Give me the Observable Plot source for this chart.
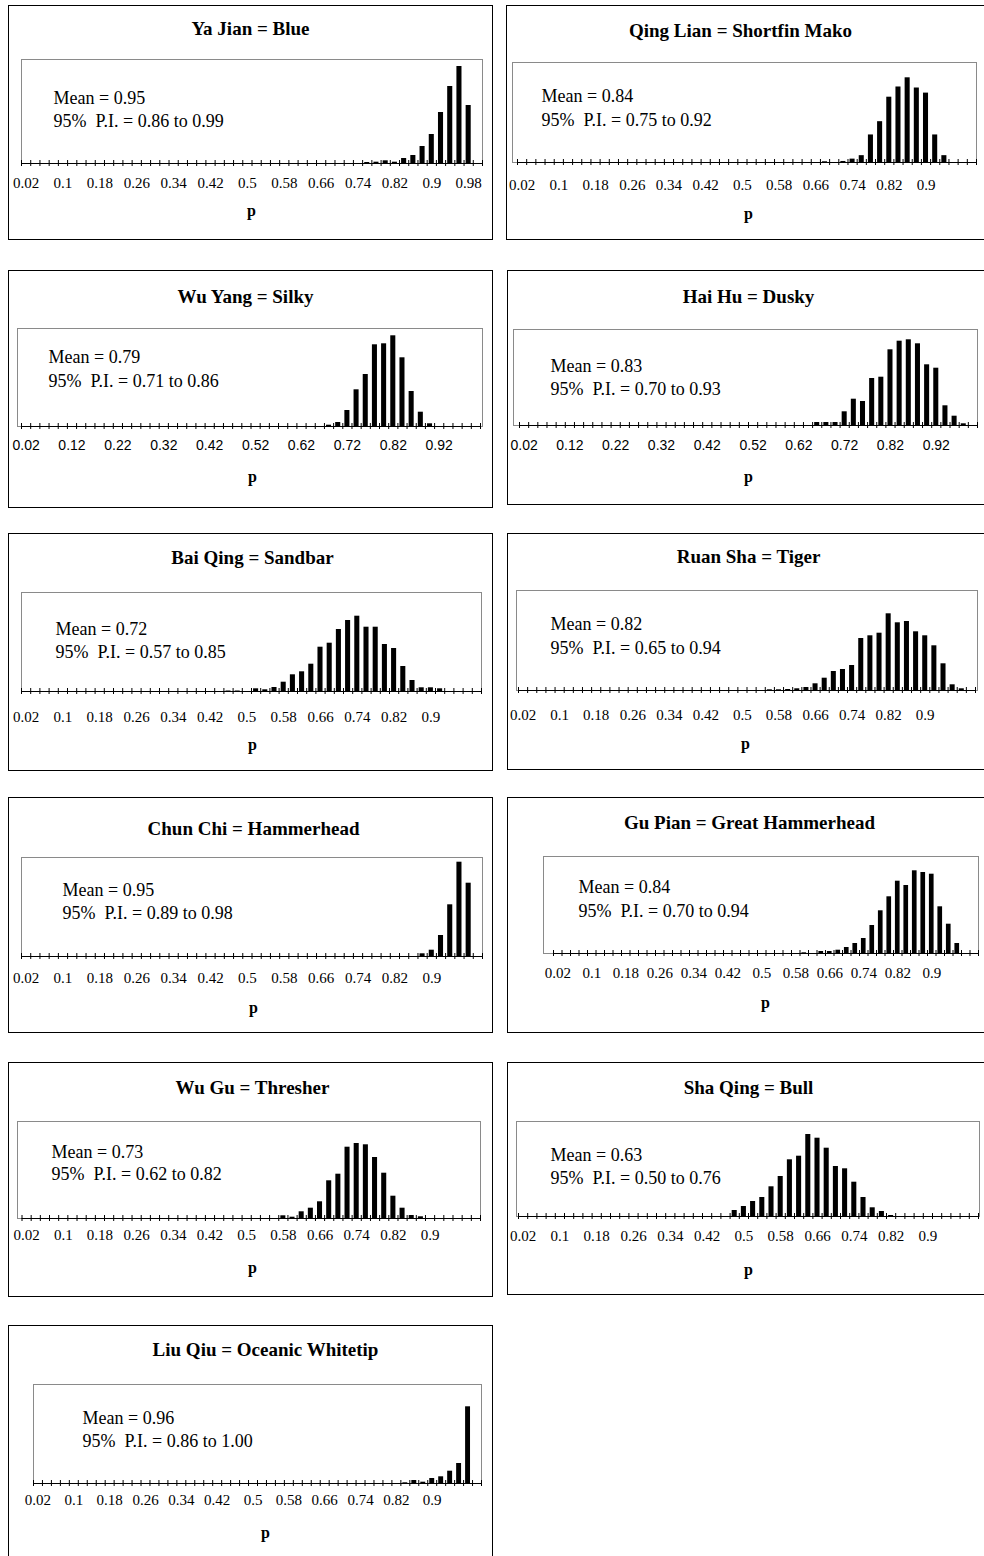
<!DOCTYPE html>
<html><head><meta charset="utf-8">
<script src="https://cdn.jsdelivr.net/npm/d3@7"></script>
<script src="https://cdn.jsdelivr.net/npm/@observablehq/plot@0.6"></script>
<style>
html,body{margin:0;padding:0;background:#fff;}
body{width:984px;height:1556px;overflow:hidden;position:relative;}
.panel{position:absolute;}
.panel svg{display:block;max-width:none !important;}
</style></head><body>
<script>
// ---- categories (bin labels of p) ----
const binCount = 50; // 0.02 ... 1.00

// ---- tick labels ----
const serifLabels = ["0.02","0.1","0.18","0.26","0.34","0.42","0.5","0.58","0.66","0.74","0.82","0.9"];
const serifLabels98 = ["0.02","0.1","0.18","0.26","0.34","0.42","0.5","0.58","0.66","0.74","0.82","0.9","0.98"];
const sansLabels = ["0.02","0.12","0.22","0.32","0.42","0.52","0.62","0.72","0.82","0.92"];

// ---- titles & statistics ----
const titles = ["Ya Jian = Blue","Qing Lian = Shortfin Mako","Wu Yang = Silky","Hai Hu = Dusky","Bai Qing = Sandbar","Ruan Sha = Tiger","Chun Chi = Hammerhead","Gu Pian = Great Hammerhead","Wu Gu = Thresher","Sha Qing = Bull","Liu Qiu = Oceanic Whitetip"];
const means = ["0.95","0.84","0.79","0.83","0.72","0.82","0.95","0.84","0.73","0.63","0.96"];
const intervals = ["0.86 to 0.99","0.75 to 0.92","0.71 to 0.86","0.70 to 0.93","0.57 to 0.85","0.65 to 0.94","0.89 to 0.98","0.70 to 0.94","0.62 to 0.82","0.50 to 0.76","0.86 to 1.00"];

// ---- histogram series (relative frequency, first bin given) ----
const firstBin = [0.76, 0.68, 0.68, 0.66, 0.46, 0.56, 0.88, 0.60, 0.58, 0.48, 0.84];
const axisMax  = [104, 98, 98, 96, 99, 100, 99, 97, 97, 95, 99];
const yaJian   = [1, 1.3, 2.7, 1.3, 5, 8, 17, 29, 51, 77, 97, 58];
const qingLian = [0.7, 0, 1, 3.3, 6.7, 27, 40, 64, 74, 83, 73, 68, 27, 6.7];
const wuYang   = [1.3, 4, 16, 36.7, 52, 81.7, 82.7, 90.7, 68.7, 35, 14.3, 2.7];
const haiHu    = [3, 3, 3, 13.7, 26.3, 24, 47, 48.3, 75.7, 84.3, 85.7, 81.7, 60.7, 57.3, 19.7, 9.3, 1.7];
const baiQing  = [0.5, 0.5, 0, 2.7, 1.7, 4, 9.3, 16.7, 19.7, 27.3, 44.3, 48.3, 62, 71, 75.3, 64.3, 64.3, 47, 43, 25, 11, 3.7, 3.7, 2.7];
const ruanSha  = [0.7, 0.7, 1, 1.7, 3, 6.7, 12.3, 19, 21, 25, 52, 54.7, 57.3, 76.7, 67.7, 69, 58.7, 54.7, 44.7, 26.7, 5.7, 1.7];
const chunChi  = [2.7, 6.3, 21, 51.7, 94.3, 73.3];
const guPian   = [0.7, 0, 2, 2, 3.3, 6, 10, 15, 28, 42.7, 56.7, 72.3, 68, 82.7, 81, 79.3, 46.7, 29.3, 10];
const wuGu     = [2.7, 1.3, 6.7, 10.3, 16.7, 37.7, 44.3, 71.3, 75, 73.7, 61, 45.3, 22.3, 10.3, 3, 1.7];
const shaQing  = [6, 10, 15, 19, 29.7, 40, 56.7, 60.3, 82, 78.3, 68.3, 50, 47.7, 34.3, 19, 8.7, 5, 1];
const liuQiu   = [0.7, 3, 1.3, 5, 6.7, 12.3, 20, 76.7];
const series = [yaJian, qingLian, wuYang, haiHu, baiQing, ruanSha, chunChi, guPian, wuGu, shaQing, liuQiu];
const tickLabelSets = [serifLabels98, serifLabels, sansLabels, sansLabels, serifLabels, serifLabels, serifLabels, serifLabels, serifLabels, serifLabels, serifLabels];

// ---- layout (page pixels) ----
const layout = [
  {L:8,T:5,R:493,B:240, iL:21,iR:482,iT:59,axisY:163, aL:21,aR:482, tx:250,ty:28, mx:53,my:98,py:121, labY:183, px:251,pY:210},
  {L:506,T:5,R:992,B:240, iL:512,iR:976,iT:62,axisY:162, aL:517,aR:976, tx:740,ty:30, mx:541,my:96,py:120, labY:185, px:748,pY:213},
  {L:8,T:270,R:493,B:508, iL:17,iR:482,iT:328,axisY:426, aL:21,aR:480, tx:245,ty:296, mx:48,my:357,py:381, labY:445, px:252,pY:476, sans:true},
  {L:507,T:270,R:992,B:505, iL:513,iR:977,iT:329,axisY:425, aL:519,aR:977, tx:748,ty:296, mx:550,my:366,py:389, labY:445, px:748,pY:476, sans:true},
  {L:8,T:533,R:493,B:771, iL:21,iR:481,iT:592,axisY:691, aL:21,aR:481, tx:252,ty:557, mx:55,my:629,py:652, labY:717, px:252,pY:744},
  {L:507,T:533,R:992,B:770, iL:516,iR:977,iT:590,axisY:690, aL:518,aR:975, tx:748,ty:556, mx:550,my:624,py:648, labY:715, px:745,pY:743},
  {L:8,T:797,R:493,B:1033, iL:21,iR:482,iT:857,axisY:956, aL:21,aR:482, tx:253,ty:828, mx:62,my:890,py:913, labY:978, px:253,pY:1007},
  {L:507,T:797,R:992,B:1033, iL:543,iR:978,iT:856,axisY:953, aL:553,aR:978, tx:749,ty:822, mx:578,my:887,py:911, labY:973, px:765,pY:1002},
  {L:8,T:1062,R:493,B:1297, iL:17,iR:480,iT:1121,axisY:1218, aL:21.5,aR:480, tx:252,ty:1087, mx:51,my:1152,py:1174, labY:1235, px:252,pY:1267},
  {L:507,T:1062,R:992,B:1295, iL:516,iR:979,iT:1121,axisY:1216, aL:518,aR:978, tx:748,ty:1087, mx:550,my:1155,py:1178, labY:1236, px:748,pY:1269},
  {L:8,T:1325,R:493,B:1562, iL:33,iR:481,iT:1384,axisY:1483, aL:33,aR:481, tx:265,ty:1349, mx:82,my:1418,py:1441, labY:1500, px:265,pY:1532}
];

const SERIF = '"Liberation Serif","Times New Roman",Times,serif';
const SANS = '"Liberation Sans",Arial,Helvetica,sans-serif';
const edges = d3.range(binCount + 1).map(i => 0.01 + 0.02 * i);

layout.forEach((c, k) => {
  const W = c.R - c.L, H = c.B - c.T;
  const innerH = c.axisY - c.iT;
  const data = series[k].map((v, i) => ({p: +(firstBin[k] + 0.02 * i).toFixed(2), v}));
  const frameCx = (c.iL + c.iR) / 2;
  const svg = Plot.plot({
    width: W, height: H,
    marginLeft: c.iL - c.L, marginRight: c.R - c.iR, marginTop: c.iT - c.T, marginBottom: c.B - c.axisY,
    x: {type: "linear", domain: [0.01, 1.01], range: [c.aL - c.L, c.aR - c.L], axis: null},
    y: {type: "linear", domain: [0, axisMax[k]], axis: null},
    style: {fontFamily: SERIF, background: "white", color: "black", overflow: "visible", maxWidth: "none"},
    marks: [
      Plot.frame({stroke: "#8a8a8a"}),
      Plot.rectY(data, {x1: d => d.p - 0.0055, x2: d => d.p + 0.0055, y1: 0, y2: "v", fill: "black"}),
      Plot.ruleY([0], {x1: 0.01, x2: 1.01, stroke: "black"}),
      Plot.tickX(edges, {x: d => d, stroke: "black", insetTop: innerH - 3, insetBottom: -3}),
      Plot.text(tickLabelSets[k], {x: d => +d, text: d => d, frameAnchor: "bottom", lineAnchor: "middle", dy: c.labY - c.axisY,
        fontSize: c.sans ? 14 : 15, fontFamily: c.sans ? SANS : SERIF, fill: "black"}),
      Plot.text([titles[k]], {text: d => d, frameAnchor: "top", lineAnchor: "middle", dx: c.tx - frameCx, dy: c.ty - c.iT,
        fontSize: 19, fontWeight: "bold", fill: "black"}),
      Plot.text(["Mean = " + means[k]], {text: d => d, frameAnchor: "top-left", lineAnchor: "middle", textAnchor: "start",
        dx: c.mx - c.iL, dy: c.my - c.iT, fontSize: 18, fill: "black"}),
      Plot.text(["95%\u00a0 P.I. = " + intervals[k]], {text: d => d, frameAnchor: "top-left", lineAnchor: "middle", textAnchor: "start",
        dx: c.mx - c.iL, dy: c.py - c.iT, fontSize: 18, fill: "black"}),
      Plot.text(["p"], {text: d => d, frameAnchor: "bottom", lineAnchor: "middle", dx: c.px - frameCx, dy: c.pY - c.axisY,
        fontSize: 16, fontWeight: "bold", fill: "black"})
    ]
  });
  svg.style.outline = "1px solid black";
  svg.style.outlineOffset = "-1px";
  svg.style.maxWidth = "none";
  svg.style.width = W + "px";
  svg.style.height = H + "px";
  const div = document.createElement("div");
  div.className = "panel";
  div.style.left = c.L + "px";
  div.style.top = c.T + "px";
  div.style.width = W + "px";
  div.style.height = H + "px";
  div.appendChild(svg);
  document.body.appendChild(div);
});
</script>
</body></html>
